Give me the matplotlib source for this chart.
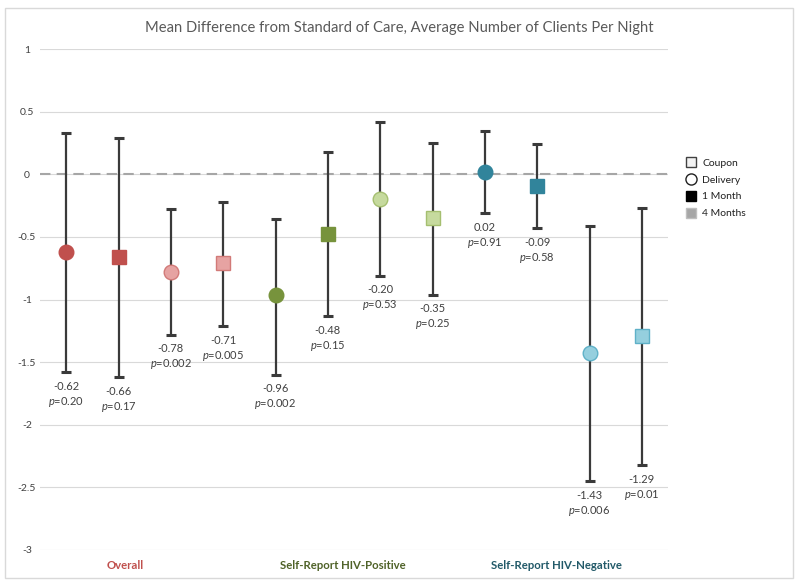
import matplotlib
matplotlib.use("Agg")
import matplotlib.pyplot as plt
from matplotlib.lines import Line2D
from matplotlib.patches import Rectangle

plt.rcParams['font.family'] = ['Lato', 'DejaVu Sans']
plt.rcParams['mathtext.fontset'] = 'custom'
plt.rcParams['mathtext.rm'] = 'Lato'
plt.rcParams['mathtext.it'] = 'Lato:italic'

# Data
means = [-0.62, -0.66, -0.78, -0.71, -0.96, -0.48, -0.20, -0.35, 0.02, -0.09, -1.43, -1.29]
upper = [0.33, 0.29, -0.28, -0.22, -0.36, 0.18, 0.42, 0.25, 0.35, 0.24, -0.41, -0.27]
lower = [-1.58, -1.62, -1.28, -1.21, -1.60, -1.13, -0.81, -0.96, -0.31, -0.43, -2.45, -2.32]
pvals = ["0.20", "0.17", "0.002", "0.005", "0.002", "0.15", "0.53", "0.25", "0.91", "0.58", "0.006", "0.01"]
value_labels = ["-0.62", "-0.66", "-0.78", "-0.71", "-0.96", "-0.48", "-0.20", "-0.35", "0.02", "-0.09", "-1.43", "-1.29"]
markers = ['o', 's', 'o', 's', 'o', 's', 'o', 's', 'o', 's', 'o', 's']
groups = ["Overall", "Self-Report HIV-Positive", "Self-Report HIV-Negative"]
group_label_x = [1.62, 5.79, 9.86]
group_dark = ["#C0504D", "#77933C", "#31849B"]
group_light = ["#E6A3A2", "#C6DA9E", "#95CFDE"]
group_edge_light = ["#D27A78", "#A5BF70", "#5FB1C8"]
group_text = ["#C0504D", "#4F6228", "#215968"]
point_group = [0, 0, 0, 0, 1, 1, 1, 1, 2, 2, 2, 2]
point_is_light = [False, False, True, True, False, False, True, True, False, False, True, True]
legend_labels = ["Coupon", "Delivery", "1 Month", "4 Months"]
yticks = [1, 0.5, 0, -0.5, -1, -1.5, -2, -2.5, -3]
ytick_labels = ["1", "0.5", "0", "-0.5", "-1", "-1.5", "-2", "-2.5", "-3"]

fig = plt.figure(figsize=(8, 5.85), dpi=100)
# outer frame
fig.patches.append(Rectangle((0.006, 0.012), 0.985, 0.975, transform=fig.transFigure,
                             fill=False, edgecolor="#D9D9D9", linewidth=1.0))
ax = fig.add_axes([0.05, 0.06, 0.785, 0.856])
ax.set_xlim(0, 12)
ax.set_ylim(-3, 1)

for y in yticks:
    ax.axhline(y, color="#D9D9D9", linewidth=0.8, zorder=0)
ax.axhline(0, color="#A6A6A6", linewidth=1.5, linestyle=(0, (5, 3)), zorder=1)

for i, m in enumerate(means):
    x = i + 0.5
    g = point_group[i]
    ax.errorbar([x], [m], yerr=[[m - lower[i]], [upper[i] - m]], fmt='none',
                ecolor="#3A3A3A", elinewidth=1.6, capsize=3.8, capthick=2.2, zorder=2)
    if point_is_light[i]:
        fc, ec = group_light[g], group_edge_light[g]
    else:
        fc, ec = group_dark[g], group_dark[g]
    ms = 10.5 if markers[i] == 'o' else 10
    ax.plot([x], [m], marker=markers[i], markersize=ms, markerfacecolor=fc,
            markeredgecolor=ec, markeredgewidth=1.0, linestyle='none', zorder=3)
    ax.text(x, lower[i] - 0.07, value_labels[i] + "\n" + r"$p$" + "=" + pvals[i],
            ha='center', va='top', fontsize=8, color="#404040", linespacing=1.3)

ax.set_yticks(yticks)
ax.set_yticklabels(ytick_labels, fontsize=7.5, color="#404040", ha='center')
ax.tick_params(axis='y', length=0, pad=9.5)
ax.set_xticks([])
for s in ax.spines.values():
    s.set_visible(False)

for gi, name in enumerate(groups):
    ax.text(group_label_x[gi], -3.08, name, ha='center', va='top', fontsize=8.2,
            fontweight='bold', color=group_text[gi])

fig.text(0.499, 0.952, "Mean Difference from Standard of Care, Average Number of Clients Per Night",
         ha='center', va='center', fontsize=10.6, color="#595959")

handles = [
    Line2D([], [], marker='s', linestyle='none', markersize=7, markerfacecolor='#F2F2F2', markeredgecolor='#404040'),
    Line2D([], [], marker='o', linestyle='none', markersize=8, markerfacecolor='white', markeredgecolor='#202020'),
    Line2D([], [], marker='s', linestyle='none', markersize=7, markerfacecolor='black', markeredgecolor='black'),
    Line2D([], [], marker='s', linestyle='none', markersize=7, markerfacecolor='#A6A6A6', markeredgecolor='#BFBFBF'),
]
fig.legend(handles, legend_labels, loc='center left', bbox_to_anchor=(0.845, 0.678),
           frameon=False, fontsize=7.5, handletextpad=0.6, labelspacing=0.72,
           handlelength=1.0, labelcolor="#202020")

fig.savefig("out.png", dpi=100)
